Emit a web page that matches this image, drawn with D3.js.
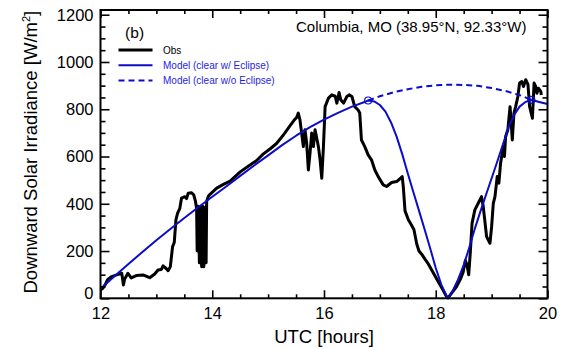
<!DOCTYPE html>
<html>
<head>
<meta charset="utf-8">
<script src="https://cdn.jsdelivr.net/npm/d3@7"></script>
<style>
  body { margin: 0; background: #fff; }
  svg { display: block; }
  text { font-family: "Liberation Sans", Arial, Helvetica, sans-serif; }
</style>
</head>
<body>
<svg id="chart" width="563" height="349"></svg>
<script>
// Axis ticks
const hourTicks = [12, 14, 16, 18, 20];
const hourMinorTicks = [12.5, 13, 13.5, 14.5, 15, 15.5, 16.5, 17, 17.5, 18.5, 19, 19.5];
const irradianceTicks = [0, 200, 400, 600, 800, 1000, 1200];
const irradianceMinorTicks = [50, 100, 150, 250, 300, 350, 450, 500, 550, 650, 700, 750,
                              850, 900, 950, 1050, 1100, 1150];

// Modelled clear-sky irradiance without the eclipse (W/m^2)
const clearHours = [12.0, 12.25, 12.5, 12.75, 13.0, 13.25, 13.5, 13.75, 14.0, 14.25, 14.5, 14.75,
                    15.0, 15.25, 15.5, 15.75, 16.0, 16.25, 16.5, 16.75, 16.79, 17.0, 17.25, 17.5,
                    17.75, 18.0, 18.25, 18.5, 18.75, 19.0, 19.25, 19.5, 19.71, 19.85, 20.0];
const clearSky = [40, 93, 145, 196, 246, 293, 340, 385, 430, 473, 518, 562,
                  605, 648, 688, 724, 756, 785, 811, 833, 837, 855, 872, 885,
                  895, 901, 904, 903, 899, 890, 877, 860, 840, 831, 822];

// Modelled clear-sky irradiance during the eclipse window (W/m^2)
const eclipseHours = [16.79, 16.9, 17.0, 17.1, 17.2, 17.3, 17.4, 17.5, 17.6, 17.7, 17.8, 17.9,
                      18.0, 18.1, 18.2, 18.22, 18.3, 18.4, 18.5, 18.6, 18.7, 18.8, 18.9, 19.0,
                      19.1, 19.2, 19.3, 19.4, 19.5, 19.6, 19.71];
const withEclipse = [837, 833, 818, 790, 744, 684, 610, 528, 449, 371, 292, 212,
                     128, 58, 6, 0, 30, 80, 140, 215, 295, 368, 438, 508,
                     578, 650, 722, 775, 811, 830, 840];

// Observed downward solar irradiance (W/m^2)
const obsHours = [12.00, 12.04, 12.08, 12.13, 12.20, 12.29, 12.38, 12.40, 12.41, 12.43, 12.49, 12.55,
  12.64, 12.76, 12.88, 12.97, 13.03, 13.09, 13.12, 13.18, 13.21, 13.25, 13.29, 13.32,
  13.35, 13.38, 13.42, 13.45, 13.51, 13.54, 13.57, 13.63, 13.67, 13.70, 13.72, 13.73,
  13.75, 13.77, 13.79, 13.81, 13.83, 13.85, 13.87, 13.89, 13.90, 13.93, 13.96, 14.08,
  14.20, 14.32, 14.50, 14.65, 14.79, 14.91, 15.05, 15.15, 15.27, 15.39, 15.46, 15.51,
  15.54, 15.57, 15.60, 15.63, 15.66, 15.69, 15.72, 15.75, 15.78, 15.81, 15.84, 15.90,
  15.93, 15.96, 15.99, 16.02, 16.08, 16.14, 16.20, 16.23, 16.27, 16.30, 16.35, 16.41,
  16.45, 16.50, 16.55, 16.61, 16.64, 16.67, 16.73, 16.79, 16.85, 16.91, 16.97, 17.06,
  17.12, 17.21, 17.30, 17.37, 17.40, 17.42, 17.45, 17.51, 17.56, 17.61, 17.66, 17.70,
  17.76, 17.81, 17.86, 17.95, 18.04, 18.13, 18.19, 18.22, 18.28, 18.37, 18.44, 18.49,
  18.53, 18.56, 18.59, 18.62, 18.65, 18.70, 18.76, 18.82, 18.85, 18.91, 18.97, 19.00,
  19.03, 19.06, 19.10, 19.13, 19.16, 19.21, 19.23, 19.25, 19.29, 19.33, 19.37, 19.40,
  19.43, 19.47, 19.50, 19.54, 19.57, 19.61, 19.65, 19.68, 19.73, 19.76, 19.79, 19.81,
  19.84, 19.88, 19.89];
const obsIrradiance = [35, 42, 56, 80, 92, 99, 106, 75, 56, 80, 106, 86,
  96, 99, 87, 103, 120, 122, 137, 125, 117, 134, 219, 236,
  332, 360, 381, 424, 430, 422, 445, 447, 437, 410, 380, 200,
  390, 150, 385, 134, 390, 134, 385, 150, 410, 432, 440, 466,
  482, 496, 535, 560, 582, 610, 635, 655, 690, 730, 752, 765,
  784, 755, 699, 642, 713, 656, 543, 614, 699, 642, 713, 642,
  586, 508, 642, 811, 847, 861, 855, 826, 871, 840, 826, 854,
  861, 854, 811, 797, 784, 670, 642, 607, 586, 543, 515, 480,
  473, 490, 494, 508, 515, 470, 370, 332, 312, 290, 230, 200,
  183, 165, 148, 110, 72, 35, 8, 2, 21, 49, 80, 110,
  160, 140, 100, 200, 318, 374, 402, 430, 388, 261, 233, 303,
  402, 430, 515, 487, 572, 642, 600, 684, 713, 811, 670, 784,
  811, 854, 911, 917, 896, 925, 905, 811, 762, 911, 896, 868,
  889, 875, 860];

const blue = "#0c0cc8";
const svg = d3.select("#chart");

const x = d3.scaleLinear().domain([12, 20]).range([100.5, 547.5]);
const y = d3.scaleLinear().domain([0, 1220]).range([298.3, 10]);

const [xLeft, xRight] = x.range();
const [yBottom, yTop] = y.range();

// ---- data series ----
const zip = (ts, vs) => ts.map((t, i) => ({ t, v: vs[i] }));
const line = d3.line().x(d => x(d.t)).y(d => y(d.v));

const eclipseStart = eclipseHours[0];
const eclipseEnd = eclipseHours[eclipseHours.length - 1];
const clearPts = zip(clearHours, clearSky);
const eclipsePts = zip(eclipseHours, withEclipse);

const solidPts = clearPts.filter(d => d.t < eclipseStart)
  .concat(eclipsePts)
  .concat(clearPts.filter(d => d.t > eclipseEnd));
const dashedPts = clearPts.filter(d => d.t >= eclipseStart && d.t <= eclipseEnd);

const plot = svg.append("g");

plot.append("path")
  .datum(zip(obsHours, obsIrradiance))
  .attr("d", line)
  .attr("fill", "none")
  .attr("stroke", "#000")
  .attr("stroke-width", 3)
  .attr("stroke-linejoin", "round");

plot.append("path")
  .datum(dashedPts)
  .attr("d", line)
  .attr("fill", "none")
  .attr("stroke", blue)
  .attr("stroke-width", 2)
  .attr("stroke-dasharray", "6,4");

plot.append("path")
  .datum(solidPts)
  .attr("d", line)
  .attr("fill", "none")
  .attr("stroke", blue)
  .attr("stroke-width", 2)
  .attr("stroke-linejoin", "round");

plot.selectAll("circle.contact")
  .data([eclipsePts[0], eclipsePts[eclipsePts.length - 1]])
  .join("circle")
  .attr("class", "contact")
  .attr("cx", d => x(d.t))
  .attr("cy", d => y(d.v))
  .attr("r", 3.5)
  .attr("fill", "none")
  .attr("stroke", blue)
  .attr("stroke-width", 1.2);

// ---- axes with inward ticks on all four sides ----
function styleAxis(g) {
  g.select(".domain").remove();
  g.selectAll(".tick line").attr("stroke", "#000").attr("stroke-width", 1.6);
  g.selectAll(".tick text").attr("fill", "#000").attr("font-size", 16.5)
    .attr("font-family", '"Liberation Sans", Arial, Helvetica, sans-serif');
}

const bottom = svg.append("g").attr("transform", `translate(0,${yBottom})`)
  .call(d3.axisBottom(x).tickValues(hourTicks).tickSize(-8).tickPadding(9).tickFormat(d3.format("d")))
  .call(styleAxis);
svg.append("g").attr("transform", `translate(0,${yBottom})`)
  .call(d3.axisBottom(x).tickValues(hourMinorTicks).tickSize(-4).tickFormat(""))
  .call(styleAxis);
svg.append("g").attr("transform", `translate(0,${yTop})`)
  .call(d3.axisTop(x).tickValues(hourTicks).tickSize(-8).tickFormat(""))
  .call(styleAxis);
svg.append("g").attr("transform", `translate(0,${yTop})`)
  .call(d3.axisTop(x).tickValues(hourMinorTicks).tickSize(-4).tickFormat(""))
  .call(styleAxis);

const left = svg.append("g").attr("transform", `translate(${xLeft},0)`)
  .call(d3.axisLeft(y).tickValues(irradianceTicks).tickSize(-9).tickPadding(7).tickFormat(d3.format("d")))
  .call(styleAxis);
// lift the zero label clear of the hour labels
left.selectAll(".tick text").filter(d => d === 0).attr("y", -5);
svg.append("g").attr("transform", `translate(${xLeft},0)`)
  .call(d3.axisLeft(y).tickValues(irradianceMinorTicks).tickSize(-5).tickFormat(""))
  .call(styleAxis);
svg.append("g").attr("transform", `translate(${xRight},0)`)
  .call(d3.axisRight(y).tickValues(irradianceTicks).tickSize(-9).tickFormat(""))
  .call(styleAxis);
svg.append("g").attr("transform", `translate(${xRight},0)`)
  .call(d3.axisRight(y).tickValues(irradianceMinorTicks).tickSize(-5).tickFormat(""))
  .call(styleAxis);

// frame
svg.append("rect")
  .attr("x", xLeft).attr("y", yTop)
  .attr("width", xRight - xLeft).attr("height", yBottom - yTop)
  .attr("fill", "none").attr("stroke", "#000").attr("stroke-width", 2);

// ---- titles ----
svg.append("text")
  .attr("x", (xLeft + xRight) / 2).attr("y", 343)
  .attr("text-anchor", "middle").attr("font-size", 18.5)
  .text("UTC [hours]");

const yTitle = svg.append("text")
  .attr("transform", `translate(37,${(yTop + yBottom) / 2 - 2}) rotate(-90)`)
  .attr("text-anchor", "middle").attr("font-size", 18.5);
yTitle.append("tspan").text("Downward Solar Irradiance [W/m");
yTitle.append("tspan").attr("dy", -7).attr("font-size", 11).text("2");
yTitle.append("tspan").attr("dy", 7).text("]");

svg.append("text")
  .attr("x", 296).attr("y", 32)
  .attr("font-size", 15)
  .text("Columbia, MO (38.95°N, 92.33°W)");

svg.append("text")
  .attr("x", 134.6).attr("y", 38)
  .attr("text-anchor", "middle").attr("font-size", 15.5)
  .text("(b)");

// ---- legend ----
const legendItems = [
  { label: "Obs", color: "#000", width: 3, dash: null },
  { label: "Model (clear w/ Eclipse)", color: blue, width: 2, dash: null },
  { label: "Model (clear w/o Eclipse)", color: blue, width: 2, dash: "6,4" }
];
const legend = svg.append("g");
legendItems.forEach((item, i) => {
  const ly = 50 + i * 15.2;
  legend.append("line")
    .attr("x1", 118.5).attr("x2", 152.5).attr("y1", ly).attr("y2", ly)
    .attr("stroke", item.color).attr("stroke-width", item.width)
    .attr("stroke-dasharray", item.dash);
  legend.append("text")
    .attr("x", 163).attr("y", ly + 3.5)
    .attr("font-size", 10).attr("fill", item.color === "#000" ? "#000" : "#1e1ee0")
    .text(item.label);
});
</script>
</body>
</html>
